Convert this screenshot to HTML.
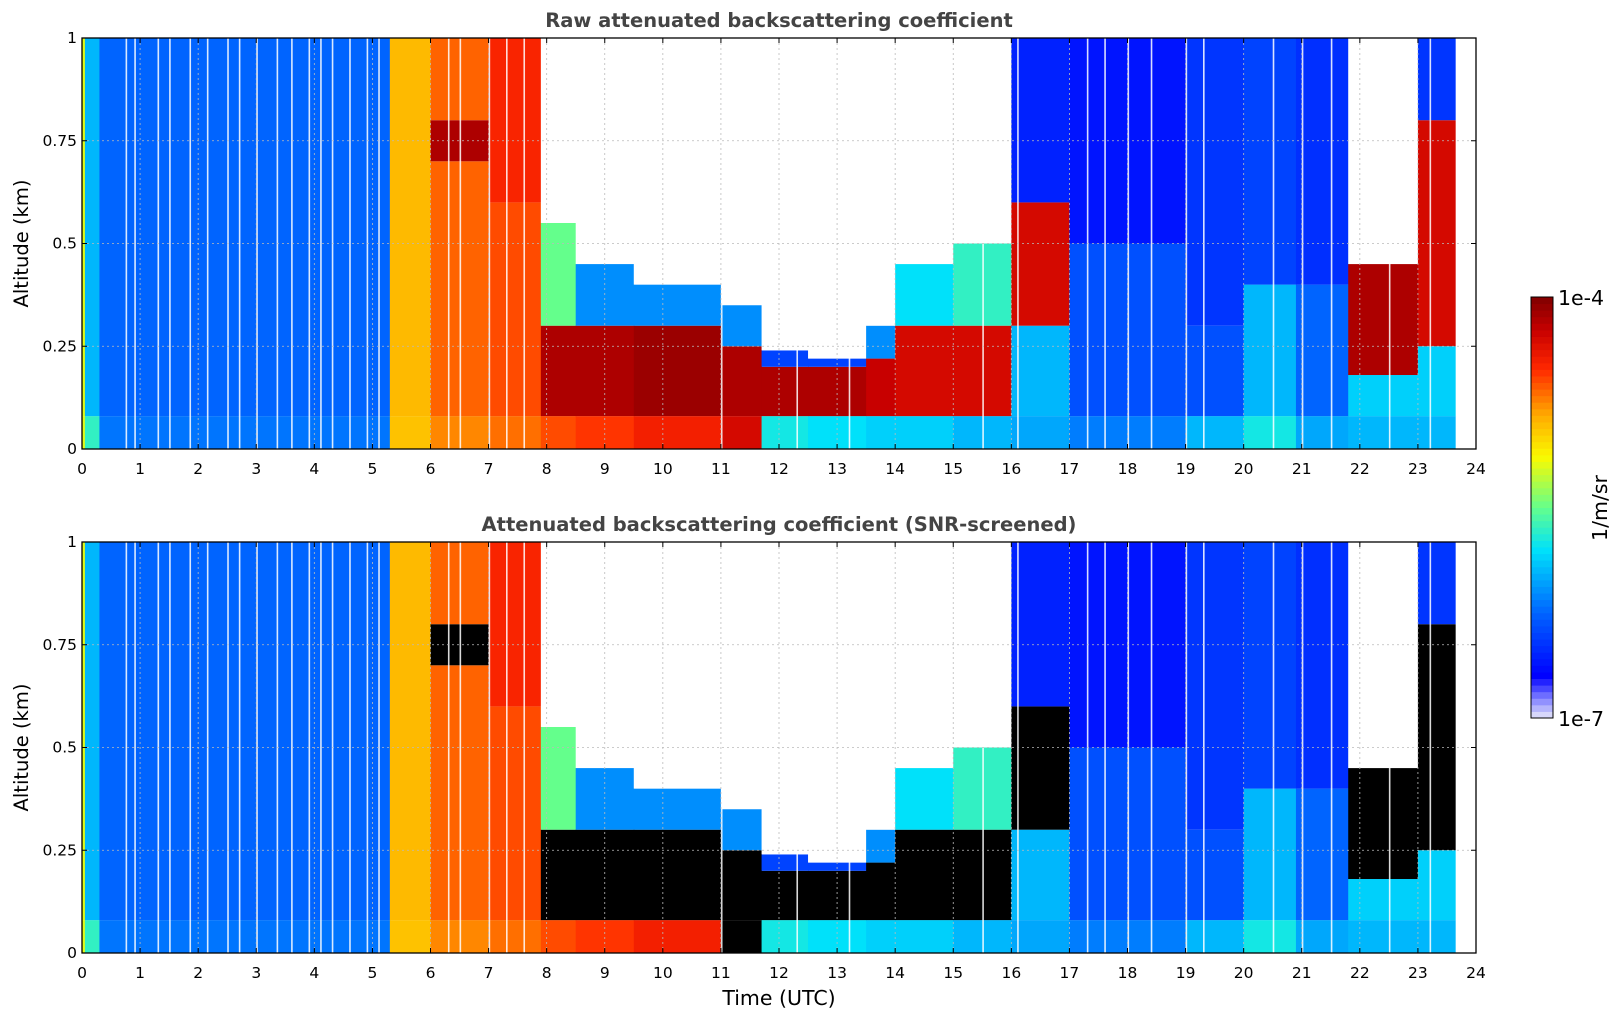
<!DOCTYPE html>
<html><head><meta charset="utf-8"><style>
body{margin:0;background:#fff;font-family:"Liberation Sans","DejaVu Sans",sans-serif}
svg{display:block}
</style></head><body>
<svg id="chart" width="1621" height="1020" xmlns="http://www.w3.org/2000/svg" font-family="DejaVu Sans, Liberation Sans, sans-serif"></svg>
<script>
// segment data (time in UTC hours, altitude km, value = normalized log10 backscatter 0..1, -1 = no data)
const segT0 =      [0,   0.05, 0.3, 5.3, 6.0, 7.0, 7.9, 8.5, 9.5, 11.0, 11.7, 12.5, 13.5, 14.0, 15.0, 16.0, 17.0, 19.0, 20.0, 20.9, 21.8, 23.0, 23.65];
const segT1 =      [0.05,0.3,  5.3, 6.0, 7.0, 7.9, 8.5, 9.5, 11.0,11.7, 12.5, 13.5, 14.0, 15.0, 16.0, 17.0, 19.0, 20.0, 20.9, 21.8, 23.0, 23.65,24];
const groundVal =  [0.6, 0.45, 0.27,0.69,0.75,0.77,0.8, 0.82,0.85,0.9,  0.42, 0.4,  0.38, 0.38, 0.35, 0.33, 0.28, 0.35, 0.42, 0.33, 0.35, 0.35, -1];
const midVal =     [0.6, 0.35, 0.25,0.7, 0.78,0.8, 0.95,0.95,0.97,0.95, 0.95, 0.95, 0.92, 0.9,  0.9,  0.35, 0.22, 0.22, 0.35, 0.25, 0.38, 0.38, -1];
const midTop =     [1,   1,    1,   1,   0.7, 0.6, 0.3, 0.3, 0.3, 0.25, 0.2,  0.2,  0.22, 0.3,  0.3,  0.3,  0.5,  0.3,  0.4,  0.4,  0.18, 0.25, 1];
const layerVal =   [0.6, 0.35, 0.25,0.7, 0.95,0.84,0.5, 0.3, 0.3, 0.3,  0.2,  0.2,  0.3,  0.4,  0.45, 0.9,  0.13, 0.18, 0.2,  0.17, 0.95, 0.9,  -1];
const layerTop =   [1,   1,    1,   1,   0.8, 1,   0.55,0.45,0.4, 0.35, 0.24, 0.22, 0.3,  0.45, 0.5,  0.6,  1,    1,    1,    1,    0.45, 0.8,  1];
const upperVal =   [0.6, 0.35, 0.25,0.7, 0.78,0.76,-1,  -1,  -1,  -1,   -1,   -1,   -1,   -1,   -1,   0.15, 0.13, 0.18, 0.2,  0.17, -1,   0.18, -1];
const stripeT = [0.75,0.9,1.3,1.5,1.85,2.15,2.5,2.7,3.0,3.35,3.6,3.9,4.1,4.3,4.6,4.9,5.1,6.3,6.5,7.0,7.3,7.6,11.0,12.3,13.2,15.5,16.1,17.3,17.6,18.0,18.4,19.0,19.3,20.5,21.0,21.5,22.5,23.2];
const xTicks = [0,1,2,3,4,5,6,7,8,9,10,11,12,13,14,15,16,17,18,19,20,21,22,23,24];
const yTicks = [0,0.25,0.5,0.75,1];
const yTickLabels = ["0","0.25","0.5","0.75","1"];

const NS="http://www.w3.org/2000/svg";
const svg=document.getElementById('chart');
function mk(tag,attrs,parent){const e=document.createElementNS(NS,tag);for(const k in attrs)e.setAttribute(k,attrs[k]);(parent||svg).appendChild(e);return e;}
const stops=[[0,[232,232,250]],[0.05,[120,120,255]],[0.1,[0,0,255]],[0.25,[0,100,255]],[0.4,[0,225,250]],[0.5,[100,255,140]],[0.62,[250,250,0]],[0.72,[255,170,0]],[0.83,[255,40,0]],[0.92,[200,0,0]],[1,[128,0,0]]];
function cmap(v){if(v<0)return '#ffffff';for(let i=1;i<stops.length;i++){if(v<=stops[i][0]){const a=stops[i-1],b=stops[i];const f=(v-a[0])/(b[0]-a[0]);const c=a[1].map((x,j)=>Math.round(x+(b[1][j]-x)*f));return `rgb(${c[0]},${c[1]},${c[2]})`;}}return 'rgb(128,0,0)';}
const X0=82,X1=1476,PH=411;
function xs(t){return X0+t/24*(X1-X0);}
function panel(top,screened,title,pname){
  const bot=top+PH;
  const ys=a=>bot-a*PH;
  const g=mk('g',{});
  const col=v=>screened&&v>=0.9?'#000000':cmap(v);
  for(let i=0;i<segT0.length;i++){
    const x=xs(segT0[i]),w=xs(segT1[i])-x+0.5;
    const bands=[[0,0.08,groundVal[i]],[0.08,midTop[i],midVal[i]],[midTop[i],layerTop[i],layerVal[i]],[layerTop[i],1,upperVal[i]]];
    for(const b of bands){if(b[1]<=b[0])continue;
      const r=mk('rect',{x:x,y:ys(b[1]),width:w,height:ys(b[0])-ys(b[1]),fill:col(b[2])},g);
      
      }
  }
  for(const t of stripeT){const r=mk('rect',{x:xs(t),y:top,width:1.6,height:PH,fill:'#fff',opacity:0.85},g);
    
    }
  for(const t of xTicks){mk('line',{x1:xs(t),x2:xs(t),y1:top,y2:bot,stroke:'#bbb','stroke-dasharray':'2,3','stroke-width':0.8},g);}
  for(const a of yTicks){mk('line',{x1:X0,x2:X1,y1:ys(a),y2:ys(a),stroke:'#bbb','stroke-dasharray':'2,3','stroke-width':0.8},g);}
  mk('rect',{x:X0,y:top,width:X1-X0,height:PH,fill:'none',stroke:'#000','stroke-width':1.3},g);
  xTicks.forEach(t=>{mk('line',{x1:xs(t),x2:xs(t),y1:bot,y2:bot-5,stroke:'#000'},g);mk('line',{x1:xs(t),x2:xs(t),y1:top,y2:top+5,stroke:'#000'},g);
    const tx=mk('text',{x:xs(t),y:bot+25,'font-size':15.5,'text-anchor':'middle'},g);tx.textContent=t;
    
    });
  yTicks.forEach((a,i)=>{mk('line',{x1:X0,x2:X0+5,y1:ys(a),y2:ys(a),stroke:'#000'},g);mk('line',{x1:X1,x2:X1-5,y1:ys(a),y2:ys(a),stroke:'#000'},g);
    const tx=mk('text',{x:X0-5,y:ys(a)+5,'font-size':15.5,'text-anchor':'end'},g);tx.textContent=yTickLabels[i];
    
    });
  const tt=mk('text',{x:779,y:top-11,'font-size':19.5,'font-weight':'bold','text-anchor':'middle',fill:'#444'},g);tt.textContent=title;
  
  
  const yl=mk('text',{x:0,y:0,'font-size':19.5,'text-anchor':'middle',transform:`translate(28,${top+PH/2}) rotate(-90)`},g);yl.textContent='Altitude (km)';
  
  
}
panel(38,false,'Raw attenuated backscattering coefficient','raw-panel');
panel(542,true,'Attenuated backscattering coefficient (SNR-screened)','screened-panel');
const xl=mk('text',{x:779,y:1005,'font-size':20.5,'text-anchor':'middle'});xl.textContent='Time (UTC)';


const cb=mk('g',{});
const cbTop=297,cbBot=718,N=64;
for(let i=0;i<N;i++){const v=(i+0.5)/N;const h=(cbBot-cbTop)/N;mk('rect',{x:1531,y:cbBot-(i+1)*h,width:22,height:h+0.5,fill:cmap(v)},cb);}
mk('rect',{x:1531,y:cbTop,width:22,height:cbBot-cbTop,fill:'none',stroke:'#000','stroke-width':1},cb);
const l1=mk('text',{x:1558,y:cbTop+8,'font-size':20.5},cb);l1.textContent='1e-4';
const l2=mk('text',{x:1558,y:cbBot+8,'font-size':20.5},cb);l2.textContent='1e-7';
const ul=mk('text',{x:0,y:0,'font-size':20.5,'text-anchor':'middle',transform:'translate(1607,508) rotate(-90)'},cb);ul.textContent='1/m/sr';


</script>
</body></html>
